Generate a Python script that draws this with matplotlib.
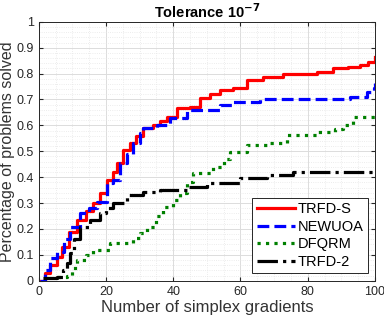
import numpy as np
import matplotlib
matplotlib.use('Agg')
import matplotlib.pyplot as plt
from matplotlib.ticker import MultipleLocator

plt.rcParams['font.family'] = ['Liberation Sans', 'DejaVu Sans']

# TRFD-S
x_trfds = [0.5, 2, 3.5, 5.3, 7, 9, 11.3, 14, 16, 18.2, 20.2, 22, 23.2, 25.2, 27, 29, 31.1, 34, 36, 38, 41, 45, 48, 51, 54, 57.8, 61.8, 66.8, 72.7, 82.7, 87.5, 92, 95.5, 98, 100]
y_trfds = [0.0, 0.03, 0.06, 0.093, 0.13, 0.19, 0.234, 0.27, 0.3, 0.337, 0.389, 0.42, 0.453, 0.505, 0.53, 0.56, 0.588, 0.6, 0.615, 0.633, 0.666, 0.672, 0.704, 0.72, 0.736, 0.743, 0.775, 0.785, 0.798, 0.807, 0.82, 0.826, 0.833, 0.845, 0.863]

# NEWUOA
x_newuoa = [0.5, 2, 3.4, 5.5, 7.5, 9.3, 12.3, 15, 17.2, 20.2, 22.2, 24.2, 26.2, 28, 30, 31.1, 35.1, 39, 44, 54, 57.8, 65.8, 92.6, 97.5, 99.6, 100]
y_newuoa = [0.0, 0.04, 0.086, 0.11, 0.16, 0.208, 0.26, 0.28, 0.305, 0.376, 0.389, 0.453, 0.49, 0.53, 0.57, 0.588, 0.6, 0.627, 0.659, 0.678, 0.691, 0.70, 0.71, 0.73, 0.745, 0.762]

# DFQRM
x_dfqrm = [5.3, 8.3, 10, 11.3, 14, 16.2, 21.2, 28.1, 30, 32.1, 35, 37, 40, 42, 44, 46, 51.9, 55, 57, 61.8, 67.8, 73.7, 82.7, 88, 90.6, 93.5, 100]
y_dfqrm = [0.015, 0.02, 0.05, 0.08, 0.1, 0.118, 0.144, 0.164, 0.185, 0.208, 0.25, 0.286, 0.31, 0.337, 0.38, 0.415, 0.44, 0.47, 0.498, 0.524, 0.53, 0.563, 0.575, 0.585, 0.60, 0.633, 0.633]

# TRFD-2
x_trfd2 = [1.4, 5.3, 7.3, 8.5, 9.3, 10.5, 12.3, 15.3, 18.2, 20, 22.2, 26.2, 31.1, 36.1, 44, 50, 59.9, 67.8, 75.7, 87.5, 100]
y_trfd2 = [0.01, 0.015, 0.041, 0.07, 0.106, 0.16, 0.208, 0.234, 0.26, 0.28, 0.299, 0.331, 0.344, 0.35, 0.363, 0.376, 0.395, 0.408, 0.421, 0.421, 0.427]

fig = plt.figure(figsize=(3.84, 3.2), dpi=100)
ax = fig.add_axes([0.1008, 0.1228, 0.8758, 0.809])

lw = 2.3
ax.plot(x_trfds, y_trfds, color='red', lw=lw, drawstyle='steps-post', label='TRFD-S')
ax.plot(x_newuoa, y_newuoa, color='blue', lw=lw, ls='--', drawstyle='steps-post', label='NEWUOA')
ax.plot(x_dfqrm, y_dfqrm, color='green', lw=lw, ls=':', drawstyle='steps-post', label='DFQRM')
ax.plot(x_trfd2, y_trfd2, color='black', lw=lw, ls='-.', drawstyle='steps-post', label='TRFD-2')

ax.set_xlim(0, 100)
ax.set_ylim(0, 1)
ax.set_xticks([0, 20, 40, 60, 80, 100])
ax.set_yticks(np.arange(0, 1.01, 0.1))
ax.set_yticklabels(['0', '0.1', '0.2', '0.3', '0.4', '0.5', '0.6', '0.7', '0.8', '0.9', '1'])
ax.xaxis.set_minor_locator(MultipleLocator(5))
ax.yaxis.set_minor_locator(MultipleLocator(0.02))
ax.grid(which='major', color='#dcdcdc', lw=0.7)
ax.grid(which='minor', color='#e6e6e6', lw=0.6, ls=':')
ax.set_axisbelow(True)
ax.tick_params(which='both', direction='in', top=True, right=True, labelsize=9, colors='#262626', length=3)
ax.tick_params(which='minor', length=0)
for s in ax.spines.values():
    s.set_color('#262626')
    s.set_linewidth(0.7)

ax.set_xlabel('Number of simplex gradients', fontsize=12, color='#333333', labelpad=2)
ax.set_ylabel('Percentage of problems solved', fontsize=11.5, color='#333333', labelpad=1)
ax.set_title(r'Tolerance 10$^{\mathbf{-7}}$', fontsize=10.5, fontweight='bold', pad=3)

leg = ax.legend(loc='lower right', fontsize=10.5, handlelength=2.6, handletextpad=0.2,
                fancybox=False, framealpha=1, edgecolor='#262626', borderaxespad=0.5,
                labelspacing=0.25, borderpad=0.3)
leg.get_frame().set_linewidth(0.7)

fig.savefig('out.png', dpi=100)
